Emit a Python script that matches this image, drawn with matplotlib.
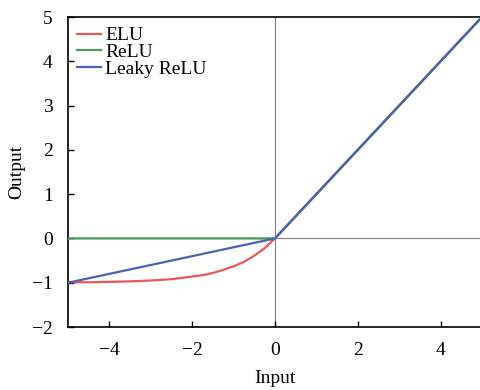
import matplotlib
matplotlib.use("Agg")
import matplotlib.pyplot as plt

plt.rcParams['font.family'] = ['Liberation Serif', 'DejaVu Serif']
plt.rcParams['mathtext.fontset'] = 'stix'

# Values
x_vals = [-5.0, -4.5, -4.0, -3.5, -3.0, -2.5, -2.0, -1.75, -1.5, -1.25, -1.0, -0.75, -0.5, -0.25, 0.0, 1.0, 2.0, 3.0, 4.0, 5.0]
elu_vals = [-0.99, -0.99, -0.98, -0.97, -0.95, -0.92, -0.86, -0.83, -0.78, -0.71, -0.63, -0.53, -0.39, -0.22, 0.0, 1.0, 2.0, 3.0, 4.0, 5.0]
relu_vals = [0.0, 0.0, 0.0, 0.0, 0.0, 0.0, 0.0, 0.0, 0.0, 0.0, 0.0, 0.0, 0.0, 0.0, 0.0, 1.0, 2.0, 3.0, 4.0, 5.0]
leaky_vals = [-1.0, -0.9, -0.8, -0.7, -0.6, -0.5, -0.4, -0.35, -0.3, -0.25, -0.2, -0.15, -0.1, -0.05, 0.0, 1.0, 2.0, 3.0, 4.0, 5.0]
series_names = ["ELU", "ReLU", "Leaky ReLU"]
series_colors = ["#e8575a", "#4e9a5c", "#4a62b4"]
x_ticks = [-4, -2, 0, 2, 4]
y_ticks = [-2, -1, 0, 1, 2, 3, 4, 5]

fig = plt.figure(figsize=(4.81, 3.90), dpi=100)
ax = fig.add_axes([68/481, 63/390, 1 - 68/481 + 0.002, (327-17)/390])

ax.axhline(0, color="#888888", lw=0.9, zorder=1)
ax.axvline(0, color="#888888", lw=0.9, zorder=1)

for vals, name, c in zip([elu_vals, relu_vals, leaky_vals], series_names, series_colors):
    ax.plot(x_vals, vals, color=c, lw=1.6, label=name, zorder=3)

ax.set_xlim(-5, 5)
ax.set_ylim(-2, 5)
ax.set_xticks(x_ticks)
ax.set_yticks(y_ticks)
ax.set_xticklabels([str(t).replace('-', '\u2212') for t in x_ticks])
ax.set_yticklabels([str(t).replace('-', '\u2212') for t in y_ticks])
ax.tick_params(direction='in', labelsize=14, length=4, width=1)
ax.tick_params(axis='x', pad=11)
ax.tick_params(axis='y', pad=11)
ax.spines['right'].set_visible(False)
for s in ['left', 'bottom', 'top']:
    ax.spines[s].set_linewidth(1.2)

ax.set_xlabel("Input", fontsize=14, labelpad=8)
ax.set_ylabel("Output", fontsize=14, labelpad=5)

ax.legend(loc='upper left', frameon=False, fontsize=14, handlelength=1.25,
          handletextpad=0.2, labelspacing=-0.05, borderaxespad=0.1,
          bbox_to_anchor=(-0.002, 1.0))

fig.savefig("out.png", dpi=100)
